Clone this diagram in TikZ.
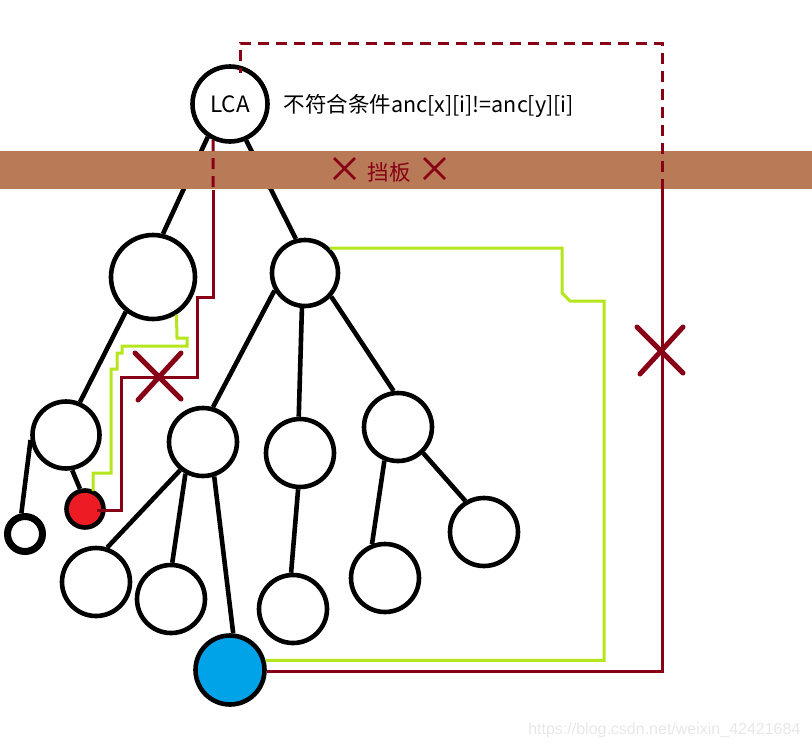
\documentclass[tikz,border=0pt]{standalone}
\usepackage{fontspec}
\setmainfont{Noto Sans CJK SC}
\newfontfamily\urlfont{Liberation Sans}
\usepackage{tikz}
\usetikzlibrary{positioning}
\definecolor{darkred}{RGB}{136,0,21}
\definecolor{lime}{RGB}{181,230,29}
\definecolor{board}{RGB}{185,122,87}
\definecolor{redfill}{RGB}{237,28,36}
\definecolor{bluefill}{RGB}{0,162,232}

\begin{document}
\begin{tikzpicture}[x=1pt,y=-1pt,
  vert/.style={circle,draw,line width=4.6pt,fill=white,inner sep=0pt,minimum size=68pt},
  edge/.style={line width=4.6pt},
  redline/.style={darkred,line width=3pt},
  greenline/.style={lime,line width=3pt},
  dashline/.style={redline,dash pattern=on 11pt off 7pt},
  cross/.style={darkred,line width=5pt,line cap=round},
  smallcross/.style={darkred,line width=2.5pt},
  every node/.style={font=\fontsize{21.5pt}{25pt}\selectfont}]
\useasboundingbox (0,0) rectangle (812,748);
% tree
\node[vert,minimum size=75pt,font=\fontsize{22.5pt}{26pt}\selectfont] (lca) at (230,104) {LCA};
\node[vert,minimum size=84pt] (a) at (153,277) {};
\node[vert,minimum size=66pt] (b) at (305,273) {};
\node[vert,minimum size=67pt] (c) at (66,435) {};
\node[vert,minimum size=37pt,fill=redfill] (red) at (85,509) {};
\node[vert,minimum size=35pt,line width=7pt] (s) at (25,534) {};
\node[vert] (d) at (203,442) {};
\node[vert] (e) at (300,453) {};
\node[vert] (f) at (398,427) {};
\node[vert] (g) at (96,582) {};
\node[vert] (h) at (171,599) {};
\node[vert,minimum size=69pt,fill=bluefill] (blue) at (230,670) {};
\node[vert] (i) at (293,609) {};
\node[vert] (j) at (385,578) {};
\node[vert] (k) at (484,532) {};
\draw[edge] (lca.-124) -- (a.77);
\draw[edge] (lca.-66) -- (b.105);
\draw[edge] (a.-128) -- (c.67);
\draw[edge] (c.188) -- (s.100);
\draw[edge] (c.-80) -- (red.104);
\draw[edge] (b.-150) -- (d.74);
\draw[edge] (b.-95) -- (e.92);
\draw[edge] (b.-42) -- (f.97);
\draw[edge] (d.-129) -- (g.72);
\draw[edge] (d.-119) -- (h.88);
\draw[edge] (d.-72) -- (blue.85);
\draw[edge] (e.-93) -- (i.93);
\draw[edge] (f.-112) -- (j.111);
\draw[edge] (f.-46) -- (k.121);
% board
\fill[board] (0,151) rectangle (812,189);
\node[darkred] (board) at (389,172) {挡板};
\draw[smallcross] (334,158) -- (355,179) (355,158) -- (334,179);
\draw[smallcross] (424,158) -- (445,179) (445,158) -- (424,179);
\node[anchor=west] (cond) at (280,106) {不符合条件anc[x][i]!=anc[y][i]};
% jumps of x and y
\coordinate (xend) at (97,510);
\coordinate (ytop) at (240,73);
\coordinate (ycut) at (662,190);
\coordinate (xcut) at (213,190);
\coordinate (gend) at (93,491);
\draw[dashline] (lca.-115) -- (xcut);
\draw[redline] (xcut) -- (213,297) -- (197,297) -- (197,377) -- (121,377) -- (121,510) -- (xend);
\draw[redline] (blue.-3) -| (ycut);
\draw[dashline] (ycut) -- (662,43) -- (240,43) -- (ytop);
\draw[greenline] (a.-58) -- (177,338) -- (187,338) -- (187,346) -- (122,346) -- (122,353) -- (117,353)
  -- (117,369) -- (111,369) -- (111,473) -- (93,473) -- (gend);
\draw[greenline] (blue.15) -| (604,301) -- (570,301) -- (562,293) |- (b.45);
\draw[cross] (135,353) -- (181,399) (181,353) -- (138,400);
\draw[cross] (637,327) -- (683,373) (683,327) -- (640,374);
\node[anchor=east,text=gray!18,font=\urlfont\fontsize{16pt}{19pt}\selectfont] (url) at (804,730) {https://blog.csdn.net/weixin\_42421684};
\end{tikzpicture}
\end{document}
